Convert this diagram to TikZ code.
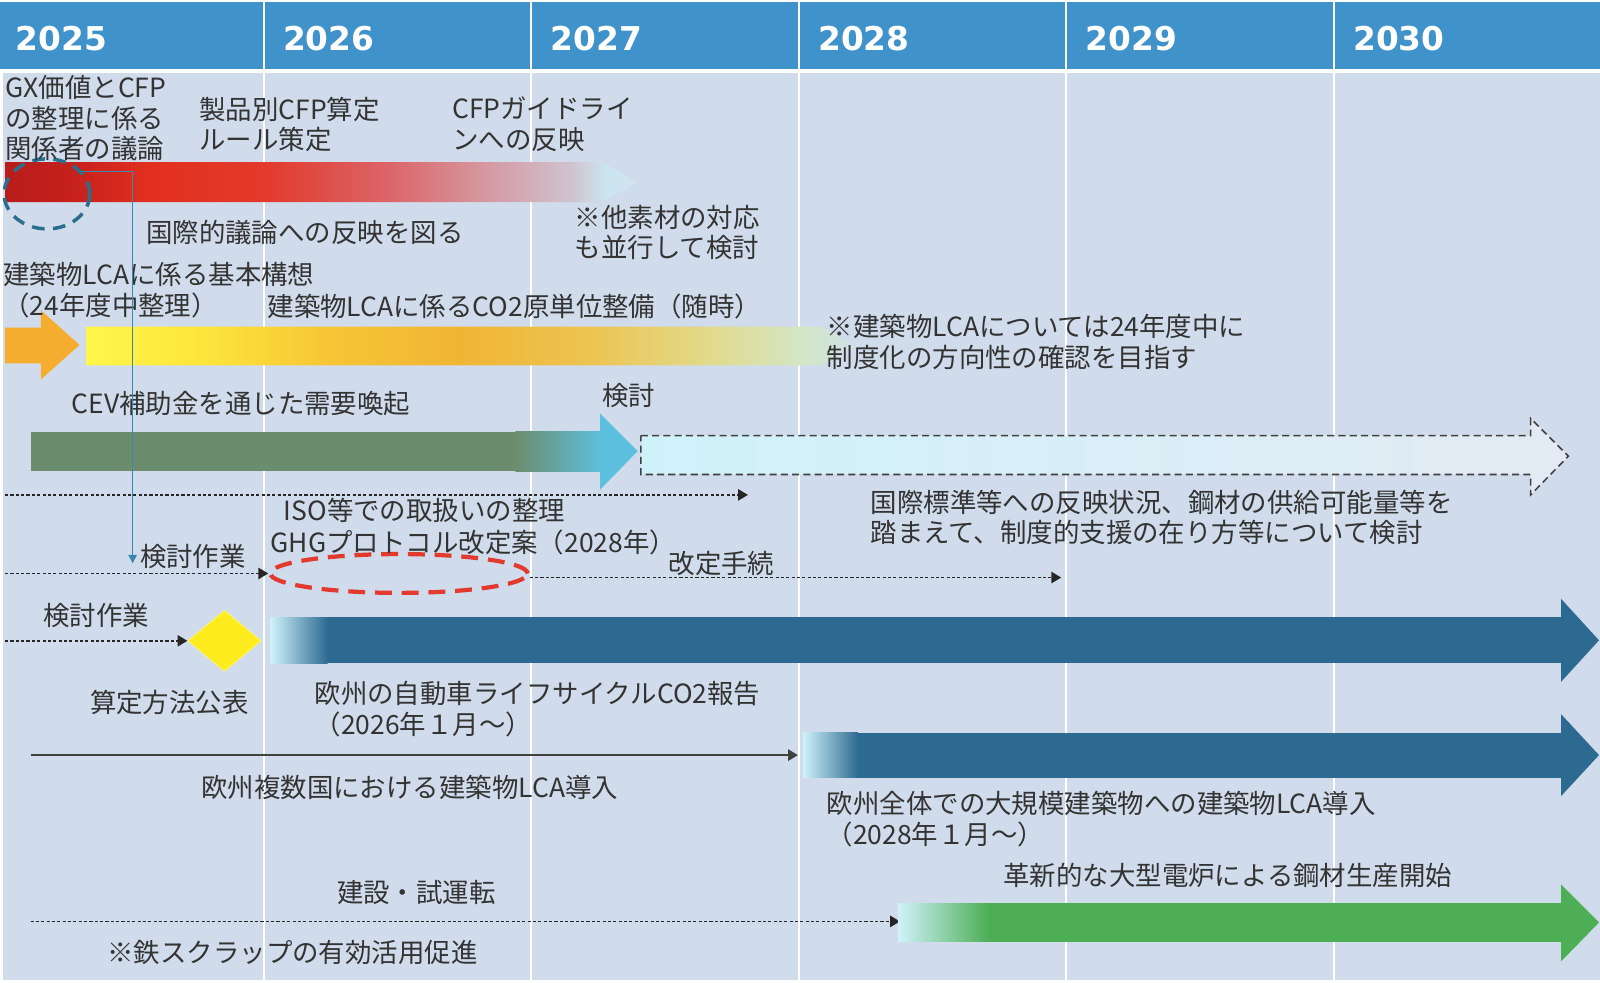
\documentclass[tikz,border=0pt]{standalone}
\usepackage{fontspec}
\setmainfont{Noto Sans CJK JP}
\newfontfamily\yearfont{DejaVu Sans}
\usetikzlibrary{arrows.meta,shapes.geometric}

\definecolor{hdrblue}{HTML}{4092CB}
\definecolor{bggray}{HTML}{D0DCEB}
\definecolor{txtgray}{HTML}{333333}
\definecolor{euroblue}{HTML}{2D6A91}
\definecolor{steelgreen}{HTML}{4DAE56}
\definecolor{cevgreen}{HTML}{6B8D6D}
\definecolor{skyhead}{HTML}{5CC0DE}
\definecolor{palecyan}{HTML}{CFF2FA}
\definecolor{linkblue}{HTML}{3A87B2}
\definecolor{ringblue}{HTML}{2B6E8E}
\definecolor{ghgred}{HTML}{E23A2E}
\definecolor{msyellow}{HTML}{FFEC1E}
\definecolor{lcaorange}{HTML}{F5AD2F}

\definecolor{cfpA}{HTML}{B81D1A}
\definecolor{cfpB}{HTML}{C31F1C}
\definecolor{cfpC}{HTML}{E2301F}
\definecolor{cfpD}{HTML}{E33A2C}
\definecolor{cfpE}{HTML}{DC6468}
\definecolor{cfpF}{HTML}{D59AA3}
\definecolor{cfpG}{HTML}{CFC3CF}
\definecolor{cfpH}{HTML}{CBE6F0}
\definecolor{cfpI}{HTML}{D2E2EE}
\pgfdeclarehorizontalshading{cfpfade}{100bp}{color(0bp)=(cfpA); color(25bp)=(cfpA); color(29.4bp)=(cfpB); color(36.7bp)=(cfpC); color(45.6bp)=(cfpD); color(55.2bp)=(cfpE); color(63.3bp)=(cfpF); color(69.8bp)=(cfpG); color(72.6bp)=(cfpH); color(75bp)=(cfpI); color(100bp)=(cfpI)}

\definecolor{lcaA}{HTML}{FFF64A}
\definecolor{lcaB}{HTML}{FDE53A}
\definecolor{lcaC}{HTML}{F6C435}
\definecolor{lcaD}{HTML}{F0B534}
\definecolor{lcaE}{HTML}{EDC452}
\definecolor{lcaF}{HTML}{E1DB8E}
\definecolor{lcaG}{HTML}{D3E6C8}
\definecolor{lcaH}{HTML}{D0DFEA}
\pgfdeclarehorizontalshading{lcafade}{100bp}{color(0bp)=(lcaA); color(25bp)=(lcaA); color(32.6bp)=(lcaB); color(41.2bp)=(lcaC); color(49.2bp)=(lcaD); color(57.8bp)=(lcaE); color(65.7bp)=(lcaF); color(71.7bp)=(lcaG); color(75bp)=(lcaH); color(100bp)=(lcaH)}

\begin{document}
\begin{tikzpicture}[x=0.0255cm, y=-0.0255cm,
  lbl/.style={font=\fontsize{18.8}{21.8}\selectfont, text=txtgray, inner sep=0pt, anchor=west, align=left},
  yearlbl/.style={font=\yearfont\bfseries\fontsize{23.3}{27}\selectfont, text=white, inner sep=0pt, anchor=west},
  dotarrow/.style={line width=1.2pt, draw=black!85, dash pattern=on 2.2pt off 1.6pt, -{Triangle[length=7pt,width=8pt]}},
  solidarrow/.style={line width=1.4pt, draw=black!75, -{Triangle[length=7pt,width=8pt]}},
  linkarrow/.style={line width=1pt, draw=linkblue, -{Triangle[length=6pt,width=6pt]}}]
\useasboundingbox (0,0) rectangle (1568,963.3);
\fill[white] (0,0) rectangle (1568,963.3);
\fill[hdrblue] (0,2) rectangle (1568,68);
\fill[bggray] (3,72) rectangle (1568,960);
% column lines
\foreach \n in {1,...,5} {
  \draw[white, line width=1.5pt] ({258.5+(\n-1)*262.2},0) -- ({258.5+(\n-1)*262.2},960);
}
% year labels
\foreach \yr [count=\n] in {2025,...,2030} {
  \node[yearlbl] (y\yr) at ({15+(\n-1)*262.2},38) {\yr};
}

% CFP row
\shade[shading=cfpfade] (5,159) -- (590,159) -- (625,178.5) -- (590,198) -- (5,198) -- cycle;
\node[draw=ringblue, line width=2.5pt, dash pattern=on 9pt off 6pt, ellipse, minimum width=2.14cm, minimum height=1.75cm, inner sep=0] (gx) at (46,190) {};
\node[lbl] (gxtxt) at (5,116) {GX価値とCFP\\の整理に係る\\関係者の議論};
\node[lbl] (rule) at (195,122) {製品別CFP算定\\ルール策定};
\node[lbl] (guide) at (443,122) {CFPガイドライ\\ンへの反映};
\node[lbl] (intl) at (143,228) {国際的議論への反映を図る};
\node[lbl] (other) at (563,228) {※他素材の対応\\も並行して検討};

% building LCA row
\fill[lcaorange] (5,321) -- (40,321) -- (40,304) -- (78,338) -- (40,372) -- (40,356) -- (5,356) -- cycle;
\shade[shading=lcafade] (85,320) -- (805,320) -- (840,339) -- (805,358) -- (85,358) -- cycle;
\node[lbl] (bldg) at (3,284) {建築物LCAに係る基本構想\\（24年度中整理）};
\node[lbl] (co2) at (262,300) {建築物LCAに係るCO2原単位整備（随時）};
\node[lbl] (lcanote) at (810,335) {※建築物LCAについては24年度中に\\制度化の方向性の確認を目指す};

% CEV row
\fill[cevgreen] (30,423) rectangle (506,462);
\shade[left color=cevgreen, right color=skyhead] (505,423) rectangle (589,462);
\fill[skyhead] (588,405) -- (625,442) -- (588,480) -- cycle;
\draw[dash pattern=on 5pt off 3pt, draw=black!75, line width=1.1pt, left color=palecyan, right color=bggray!60!white] (628,427) -- (1500,427) -- (1500,410) -- (1537,447) -- (1500,485) -- (1500,465) -- (628,465) -- cycle;
\node[lbl] (cev) at (70,395) {CEV補助金を通じた需要喚起};
\node[lbl] (study) at (590,388) {検討};
\node[lbl] (std) at (853,507) {国際標準等への反映状況、鋼材の供給可能量等を\\踏まえて、制度的支援の在り方等について検討};
\coordinate (d3s) at (5,485);
\coordinate (d3e) at (733,485);
\draw[dotarrow] (d3s) -- (d3e);

% GHG protocol row
\node[draw=ghgred, line width=3pt, dash pattern=on 12pt off 7pt, ellipse, minimum width=6.43cm, minimum height=0.97cm, inner sep=0] (ghg) at (391,562) {};
\node[lbl] (iso) at (278,500) {ISO等での取扱いの整理};
\node[lbl] (ghgtxt) at (265,532) {GHGプロトコル改定案（2028年）};
\node[lbl] (rev) at (655,552) {改定手続};
\node[lbl] (wk1) at (137,545) {検討作業};
\coordinate (d4s) at (5,562);
\coordinate (d4e) at (1040,566);
\draw[dotarrow] (d4s) -- (ghg.west);
\draw[dotarrow] (ghg.east |- d4e) -- (d4e);
\coordinate (wk1in) at (130,552);
\draw[linkarrow] (gx.32) -| (wk1in);

% EU car row
\node[lbl] (wk2) at (42,603) {検討作業};
\node[diamond, fill=msyellow, draw=msyellow!50!white, minimum width=1.84cm, minimum height=1.53cm, inner sep=0] (pub) at (220,628) {};
\coordinate (d5s) at (5,628);
\draw[dotarrow] (d5s) -- (pub.west);
\fill[euroblue] (320,605) rectangle (1531,650);
\fill[euroblue] (1530,587) -- (1567,627.5) -- (1530,668) -- cycle;
\shade[left color=palecyan, right color=euroblue] (265,605) rectangle (321,650);
\node[lbl] (pubtxt) at (88,688) {算定方法公表};
\node[lbl] (eucar) at (308,695) {欧州の自動車ライフサイクルCO2報告\\（2026年１月～）};

% EU building row
\coordinate (s6s) at (30,740);
\coordinate (s6e) at (782,740);
\draw[solidarrow] (s6s) -- (s6e);
\fill[euroblue] (840,718) rectangle (1531,762);
\fill[euroblue] (1530,700) -- (1567,740) -- (1530,780) -- cycle;
\shade[left color=palecyan, right color=euroblue] (787,718) rectangle (841,762);
\node[lbl] (eulca) at (197,772) {欧州複数国における建築物LCA導入};
\node[lbl] (euall) at (810,803) {欧州全体での大規模建築物への建築物LCA導入\\（2028年１月～）};

% steel row
\coordinate (d7s) at (30,903);
\coordinate (d7e) at (882,903);
\draw[dotarrow] (d7s) -- (d7e);
\fill[steelgreen] (968,885) rectangle (1531,923);
\fill[steelgreen] (1530,867) -- (1567,904) -- (1530,942) -- cycle;
\shade[left color=palecyan, right color=steelgreen] (880,885) rectangle (969,923);
\node[lbl] (eaf) at (983,858) {革新的な大型電炉による鋼材生産開始};
\node[lbl] (build) at (330,875) {建設・試運転};
\node[lbl] (scrap) at (105,933) {※鉄スクラップの有効活用促進};
\end{tikzpicture}
\end{document}
